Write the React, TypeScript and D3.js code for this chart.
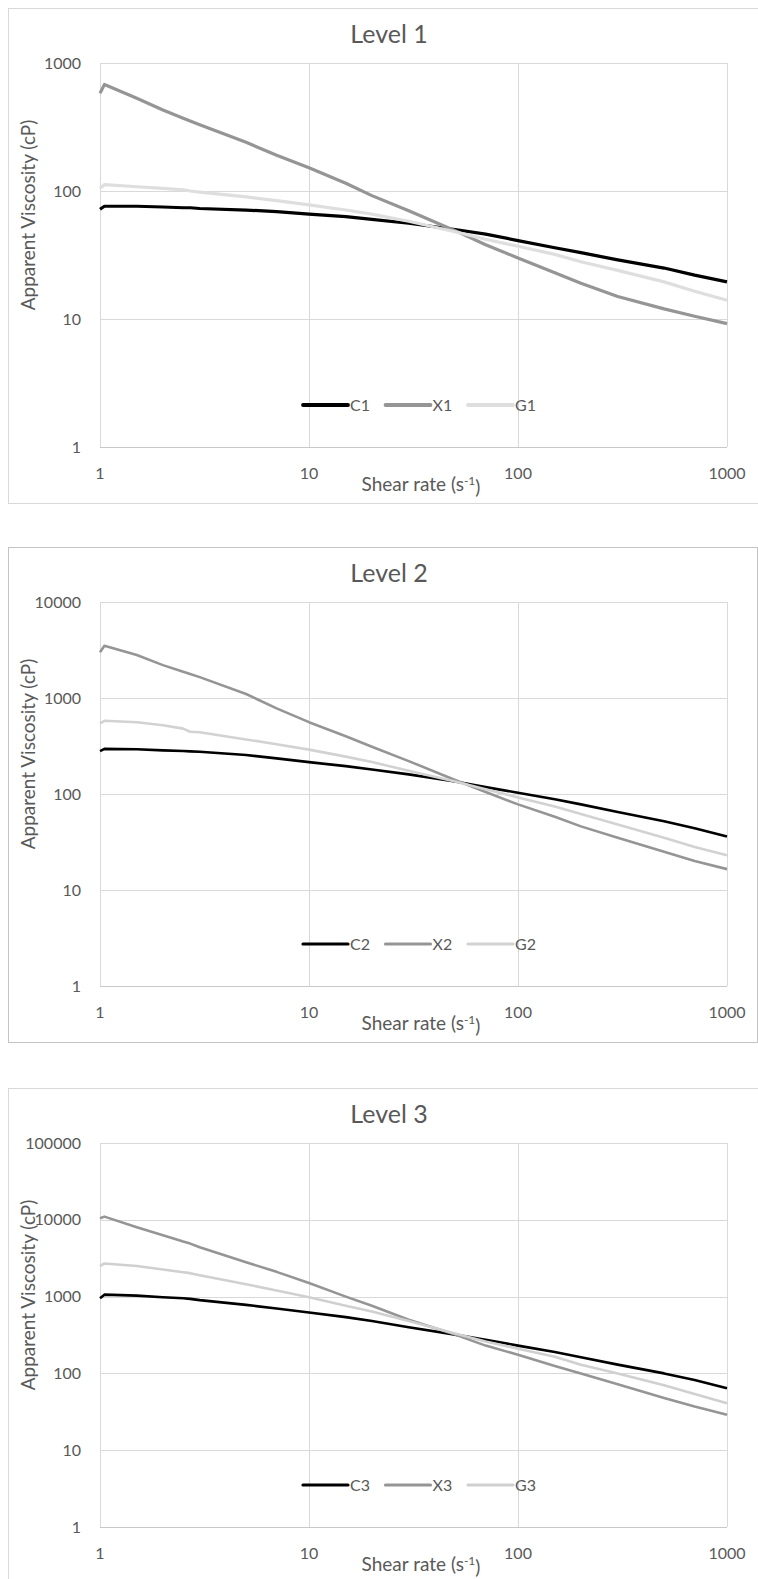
import React, { useEffect, useRef } from "react";
import * as d3 from "d3";

// shear rate (1/s), shared by every series
const shearRate = [1, 1.05, 1.5, 2, 2.5, 2.7, 3, 5, 7, 10, 15, 20, 30, 50, 70, 100, 150, 200, 300, 500, 700, 1000];

// apparent viscosity (cP)
const c1 = [72, 76, 76, 75, 74, 74, 73, 71, 69, 66, 63, 60, 56, 50, 46, 41, 36, 33, 29, 25, 22, 19.5];
const x1 = [580, 680, 530, 430, 370, 352, 330, 240, 190, 152, 115, 92, 70, 49, 38, 30, 23, 19, 15, 12, 10.5, 9.2];
const g1 = [105, 112, 108, 105, 102, 100, 98, 90, 84, 78, 71, 66, 58, 48, 42, 37, 32, 28, 24, 19.5, 16.5, 14];

const c2 = [280, 295, 292, 285, 280, 278, 275, 255, 235, 215, 195, 180, 160, 135, 118, 103, 88, 78, 65, 52, 44, 36];
const x2 = [3000, 3500, 2800, 2200, 1880, 1780, 1650, 1100, 780, 560, 400, 310, 220, 140, 105, 78, 58, 46, 35, 25, 20, 16.5];
const g2 = [540, 580, 560, 520, 480, 445, 440, 370, 330, 290, 245, 215, 175, 135, 112, 92, 74, 62, 48, 35, 28, 23];

const c3 = [950, 1060, 1030, 980, 950, 935, 900, 780, 700, 620, 540, 480, 400, 320, 275, 230, 190, 162, 130, 100, 82, 64];
const x3 = [10500, 11000, 8000, 6300, 5200, 4900, 4400, 2800, 2100, 1500, 1000, 760, 500, 320, 230, 175, 125, 100, 72, 48, 37, 29];
const g3 = [2500, 2700, 2500, 2250, 2080, 2020, 1900, 1450, 1200, 980, 760, 640, 480, 330, 260, 210, 165, 130, 100, 70, 54, 41];

const xTicks = [1, 10, 100, 1000];
const yTicks1 = [1, 10, 100, 1000];
const yTicks2 = [1, 10, 100, 1000, 10000];
const yTicks3 = [1, 10, 100, 1000, 10000, 100000];

const titles = ["Level 1", "Level 2", "Level 3"];
const seriesNames = [["C1", "X1", "G1"], ["C2", "X2", "G2"], ["C3", "X3", "G3"]];
const seriesValues = [[c1, x1, g1], [c2, x2, g2], [c3, x3, g3]];
const yTickSets = [yTicks1, yTicks2, yTicks3];

const FONT = "Lato, 'Open Sans', sans-serif";
const TEXT = "#595959";
const GRID = "#d9d9d9";

const panels = [
  { top: 8, right: 770, border: "#d9d9d9", lineW: 3.2, colors: ["#000000", "#959595", "#dedede"] },
  { top: 547, right: 757, border: "#c4c4c4", lineW: 2.6, colors: ["#000000", "#959595", "#d2d2d2"] },
  { top: 1088, right: 770, border: "#d9d9d9", lineW: 2.6, colors: ["#000000", "#959595", "#d0d0d0"] },
];

function drawLevel(svg: any, i: number) {
  const p = panels[i];
  const yTicks = yTickSets[i];
  const g = svg.append("g");

  g.append("rect")
    .attr("x", 8.5)
    .attr("y", p.top + 0.5)
    .attr("width", p.right - 8)
    .attr("height", 495)
    .attr("fill", "#fff")
    .attr("stroke", p.border);

  const x = d3.scaleLog().domain([1, 1000]).range([100, 727]);
  const y = d3.scaleLog().domain([1, yTicks[yTicks.length - 1]]).range([p.top + 439, p.top + 55]);

  // grid
  g.selectAll(".hgrid").data(yTicks).enter().append("line")
    .attr("x1", 100).attr("x2", 727)
    .attr("y1", d => Math.round(y(d)) + 0.5).attr("y2", d => Math.round(y(d)) + 0.5)
    .attr("stroke", (d, k) => (k === 0 ? "#c8c8c8" : GRID)).attr("stroke-width", 1);
  g.selectAll(".vgrid").data(xTicks).enter().append("line")
    .attr("x1", d => Math.round(x(d)) + 0.5).attr("x2", d => Math.round(x(d)) + 0.5)
    .attr("y1", p.top + 55).attr("y2", p.top + 439)
    .attr("stroke", GRID).attr("stroke-width", 1);

  // tick labels
  g.selectAll(".ylab").data(yTicks).enter().append("text")
    .attr("x", 81).attr("y", d => y(d))
    .attr("dy", "0.35em")
    .attr("text-anchor", "end")
    .style("font-family", FONT).style("font-size", "16px").attr("fill", TEXT)
    .text(d => String(d));
  g.selectAll(".xlab").data(xTicks).enter().append("text")
    .attr("x", d => x(d)).attr("y", p.top + 465)
    .attr("dy", "0.35em")
    .attr("text-anchor", "middle")
    .style("font-family", FONT).style("font-size", "16px").attr("fill", TEXT)
    .text(d => String(d));

  // series
  const line = d3.line<[number, number]>()
    .x(d => x(d[0]))
    .y(d => y(d[1]));
  seriesValues[i].forEach((vals, k) => {
    g.append("path")
      .datum(shearRate.map((s, j) => [s, vals[j]] as [number, number]))
      .attr("d", line)
      .attr("fill", "none")
      .attr("stroke", p.colors[k])
      .attr("stroke-width", p.lineW)
      .attr("stroke-linejoin", "round");
  });

  // legend
  const ly = p.top + 397;
  seriesNames[i].forEach((name, k) => {
    const lx = 303 + k * 82.5;
    g.append("line")
      .attr("x1", lx).attr("x2", lx + 45)
      .attr("y1", ly).attr("y2", ly)
      .attr("stroke", p.colors[k]).attr("stroke-width", p.lineW + 0.6)
      .attr("stroke-linecap", "round");
    g.append("text")
      .attr("x", lx + 47).attr("y", ly).attr("dy", "0.35em")
      .style("font-family", FONT).style("font-size", "16px").attr("fill", TEXT)
      .text(name);
  });

  // title
  g.append("text")
    .attr("x", 389).attr("y", p.top + 26).attr("dy", "0.35em")
    .attr("text-anchor", "middle")
    .style("font-family", FONT).style("font-size", "25px").attr("fill", TEXT)
    .text(titles[i]);

  // axis titles
  const xt = g.append("text")
    .attr("x", 421).attr("y", p.top + 476).attr("dy", "0.35em")
    .attr("text-anchor", "middle")
    .style("font-family", FONT).style("font-size", "19px").attr("fill", TEXT);
  xt.append("tspan").text("Shear rate (s");
  xt.append("tspan").attr("dy", "-0.45em").style("font-size", "12px").text("-1");
  xt.append("tspan").attr("dy", "0.45em").text(")");

  g.append("text")
    .attr("transform", `translate(28,${p.top + 207}) rotate(-90)`)
    .attr("dy", "0.35em")
    .attr("text-anchor", "middle")
    .style("font-family", FONT).style("font-size", "19px").attr("fill", TEXT)
    .text("Apparent Viscosity (cP)");
}

export default function App() {
  const ref = useRef<SVGSVGElement>(null);

  useEffect(() => {
    const svg = d3.select(ref.current);
    svg.selectAll("*").remove();
    [0, 1, 2].forEach(i => drawLevel(svg, i));
  }, []);

  return (
    <svg
      ref={ref}
      width={758}
      height={1579}
      style={{ position: "absolute", left: 0, top: 0, background: "#fff" }}
    />
  );
}
